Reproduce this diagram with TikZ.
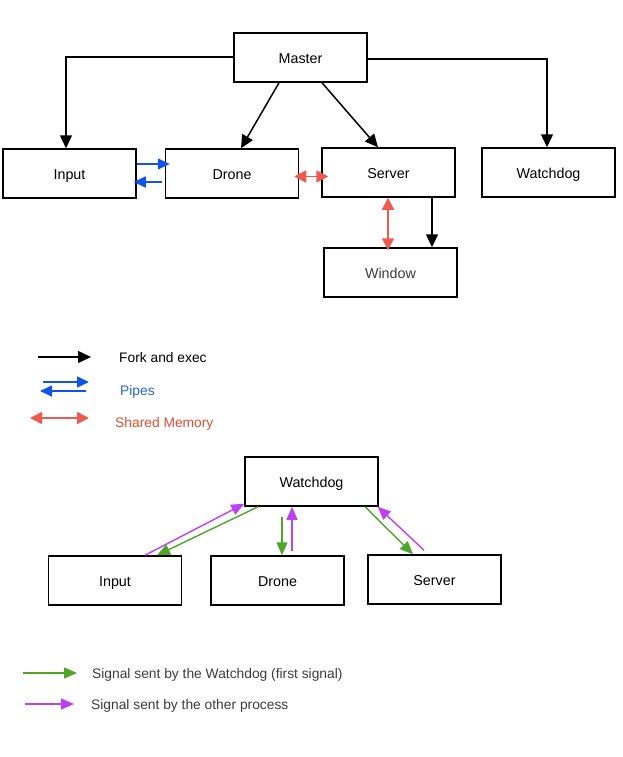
\documentclass[tikz,border=0pt]{standalone}
\usepackage{fontspec}
\setmainfont{Liberation Sans}
\usetikzlibrary{arrows.meta}
\definecolor{pblue}{RGB}{17,85,232}
\definecolor{pbluetxt}{RGB}{40,100,220}
\definecolor{pred}{RGB}{238,90,78}
\definecolor{predtxt}{RGB}{225,75,50}
\definecolor{pgreen}{RGB}{78,165,40}
\definecolor{ppurple}{RGB}{190,64,245}
\definecolor{txtgray}{RGB}{60,60,60}
\tikzset{
  box/.style={draw=black, line width=1.5pt, minimum width=133pt, minimum height=49pt, inner sep=0pt, text height=12.4pt, text depth=0pt, font=\fontsize{14.3}{16}\selectfont},
  fork/.style={line width=1.5pt, -{Triangle[length=13pt,width=12pt]}},
  pipe/.style={pblue, line width=1.6pt, -{Triangle[length=12pt,width=11pt]}},
  shm/.style={pred, line width=1.6pt, {Triangle[length=12pt,width=12pt]}-{Triangle[length=12pt,width=12pt]}},
  wsig/.style={pgreen, line width=1.4pt, -{Triangle[length=13pt,width=11pt]}},
  osig/.style={ppurple, line width=1.4pt, -{Triangle[length=13pt,width=11pt]}},
  lbl/.style={anchor=west, inner sep=0pt, text height=12pt, text depth=0pt, font=\fontsize{13.8}{16}\selectfont}
}
\begin{document}
\begin{tikzpicture}[x=1pt,y=-1pt]
\useasboundingbox (0,0) rectangle (623,757);
% top diagram
\node[box] (master) at (300.5,57.5) {Master};
\node[box] (input) at (69.5,173.5) {Input};
\node[box] (drone) at (232,173.5) {Drone};
\node[box] (server) at (388.5,172.5) {Server};
\node[box] (watchdog) at (548.5,172.5) {Watchdog};
\node[box, text=txtgray] (window) at (390.5,272.5) {Window};

\draw[fork] ([yshift=0.5pt]master.west) -| ([xshift=-3.5pt]input.north);
\draw[fork] ([yshift=-1.5pt]master.east) -| ([xshift=-1.5pt]watchdog.north);
\draw[fork] ([xshift=-21.5pt]master.south) -- ([xshift=9pt]drone.north);
\draw[fork] ([xshift=21.5pt]master.south) -- ([xshift=-10.5pt]server.north);
\draw[fork] ([xshift=43.5pt]server.south) -- ([xshift=41.5pt]window.north);

\draw[pipe] ([yshift=9.5pt]input.east) -- ([yshift=9.5pt,xshift=5pt]drone.west);
\draw[pipe] ([yshift=-8.5pt,xshift=-3pt]drone.west) -- ([yshift=-8.5pt,xshift=-3pt]input.east);
\draw[shm] ([yshift=-3pt,xshift=-5pt]drone.east) -- ([yshift=-4pt,xshift=7pt]server.west);
\draw[shm] ([xshift=-0.5pt]server.south) -- ([xshift=-2.5pt,yshift=-3pt]window.north);

% legend 1
\coordinate (l1a) at (38,357); \coordinate (l1b) at (91,357);
\draw[fork] (l1a) -- (l1b);
\node[lbl] (t1) at (119,356.5) {Fork and exec};
\coordinate (l2a) at (43,382); \coordinate (l2b) at (89,382);
\coordinate (l2c) at (86,391); \coordinate (l2d) at (40,391);
\draw[pipe] (l2a) -- (l2b);
\draw[pipe] (l2c) -- (l2d);
\node[lbl, text=pbluetxt] (t2) at (120,389) {Pipes};
\coordinate (l3a) at (30,418); \coordinate (l3b) at (89,418);
\draw[shm] (l3a) -- (l3b);
\node[lbl, text=predtxt] (t3) at (115,421.5) {Shared Memory};

% bottom diagram
\node[box] (wd) at (311.5,481.5) {Watchdog};
\node[box] (in2) at (115,580.5) {Input};
\node[box] (dr2) at (277.5,580.5) {Drone};
\node[box] (sv2) at (434.5,579.5) {Server};

\draw[wsig] ([xshift=-53.5pt]wd.south) -- ([xshift=42pt]in2.north);
\draw[osig] ([xshift=30pt]in2.north) -- ([yshift=3pt]wd.south west);
\draw[wsig] ([xshift=-29.5pt,yshift=-10pt]wd.south) -- ([xshift=4.5pt]dr2.north);
\draw[osig] ([xshift=14.5pt,yshift=4pt]dr2.north) -- ([xshift=-19.5pt]wd.south);
\draw[wsig] ([xshift=53.5pt]wd.south) -- ([xshift=-21.5pt]sv2.north);
\draw[osig] ([xshift=-10.5pt,yshift=4pt]sv2.north) -- ([xshift=-1pt]wd.south east);

% legend 2
\coordinate (g1a) at (23,673); \coordinate (g1b) at (77,673);
\draw[wsig] (g1a) -- (g1b);
\node[lbl, text=txtgray] (t4) at (92,672.5) {Signal sent by the Watchdog (first signal)};
\coordinate (g2a) at (25,704); \coordinate (g2b) at (74,704);
\draw[osig] (g2a) -- (g2b);
\node[lbl, text=txtgray] (t5) at (91,703.5) {Signal sent by the other process};
\end{tikzpicture}
\end{document}
